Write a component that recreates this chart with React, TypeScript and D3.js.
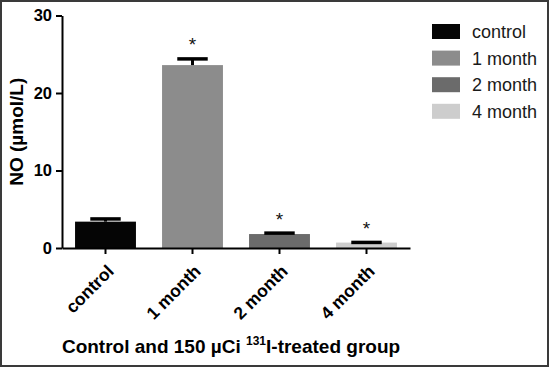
import React, { useEffect, useRef } from 'react';
import * as d3 from 'd3';

const groups = ['control', '1 month', '2 month', '4 month'];
const means = [3.4, 23.6, 1.8, 0.7];
const errors = [0.35, 0.8, 0.12, 0.02];
const starred = [false, true, true, true];
const colors = ['#050505', '#8c8c8c', '#6b6b6b', '#cdcdcd'];
const yTicks = [0, 10, 20, 30];

const FONT = '"Liberation Sans", Arial, Helvetica, sans-serif';

const App: React.FC = () => {
  const svgRef = useRef<SVGSVGElement | null>(null);

  useEffect(() => {
    if (!svgRef.current) return;
    const width = 549;
    const height = 367;
    const margin = { top: 15.5, right: 139, bottom: 119, left: 62 };

    const svg = d3.select(svgRef.current);
    svg.selectAll('*').remove();

    svg
      .append('rect')
      .attr('x', 0)
      .attr('y', 0)
      .attr('width', width)
      .attr('height', height)
      .attr('fill', '#fff');

    const x = d3
      .scaleBand<string>()
      .domain(groups)
      .range([margin.left, width - margin.right])
      .paddingInner(0.3)
      .paddingOuter(0.15);

    const y = d3
      .scaleLinear()
      .domain([0, 30])
      .range([height - margin.bottom, margin.top]);

    const data = groups.map((g, i) => ({
      g,
      mean: means[i],
      err: errors[i],
      star: starred[i],
      color: colors[i],
    }));

    // Bars
    svg
      .selectAll('rect.bar')
      .data(data)
      .enter()
      .append('rect')
      .attr('class', 'bar')
      .attr('x', (d) => x(d.g) as number)
      .attr('y', (d) => y(d.mean))
      .attr('width', x.bandwidth())
      .attr('height', (d) => y(0) - y(d.mean))
      .attr('fill', (d) => d.color);

    // Error bars (upper only)
    const capW = x.bandwidth() / 2;
    data.forEach((d) => {
      const cx = (x(d.g) as number) + x.bandwidth() / 2;
      const top = y(d.mean + d.err);
      svg
        .append('line')
        .attr('x1', cx)
        .attr('x2', cx)
        .attr('y1', y(d.mean))
        .attr('y2', top)
        .attr('stroke', '#000')
        .attr('stroke-width', 3);
      svg
        .append('line')
        .attr('x1', cx - capW / 2)
        .attr('x2', cx + capW / 2)
        .attr('y1', top)
        .attr('y2', top)
        .attr('stroke', '#000')
        .attr('stroke-width', 3.5);
      if (d.star) {
        svg
          .append('text')
          .attr('x', cx)
          .attr('y', top - 7.5)
          .attr('text-anchor', 'middle')
          .attr('font-family', FONT)
          .attr('font-size', '19px')
          .attr('fill', '#111')
          .text('*');
      }
    });

    // Y axis
    const yAxis = svg
      .append('g')
      .attr('transform', `translate(${margin.left},0)`)
      .call(d3.axisLeft(y).tickValues(yTicks).tickSize(6).tickPadding(4).tickSizeOuter(0));
    yAxis.select('.domain').attr('stroke', '#000').attr('stroke-width', 2);
    yAxis.selectAll('line').attr('stroke', '#000').attr('stroke-width', 2);
    yAxis
      .selectAll('text')
      .attr('fill', '#000')
      .attr('font-family', FONT)
      .attr('font-weight', 'bold')
      .attr('font-size', '16.5px');

    // X axis
    const xAxis = svg
      .append('g')
      .attr('transform', `translate(0,${y(0)})`)
      .call(d3.axisBottom(x).tickSize(6).tickSizeOuter(0));
    xAxis.select('.domain').attr('stroke', '#000').attr('stroke-width', 2);
    xAxis.selectAll('line').attr('stroke', '#000').attr('stroke-width', 2);
    xAxis
      .selectAll('text')
      .attr('fill', '#000')
      .attr('font-family', FONT)
      .attr('font-weight', 'bold')
      .attr('font-size', '17.5px')
      .attr('text-anchor', 'end')
      .attr('x', 0)
      .attr('y', 0)
      .attr('dy', '0.35em')
      .attr('transform', 'translate(5,20) rotate(-45)');

    // Axis titles
    svg
      .append('text')
      .attr('x', -(y(0) + y(30)) / 2)
      .attr('y', 23)
      .attr('transform', 'rotate(-90)')
      .attr('text-anchor', 'middle')
      .attr('font-family', FONT)
      .attr('font-weight', 'bold')
      .attr('font-size', '19px')
      .attr('fill', '#000')
      .text('NO (µmol/L)');

    const title = svg
      .append('text')
      .attr('x', 231)
      .attr('y', 353)
      .attr('text-anchor', 'middle')
      .attr('font-family', FONT)
      .attr('font-weight', 'bold')
      .attr('font-size', '19px')
      .attr('fill', '#000');
    title.append('tspan').text('Control and 150 µCi ');
    title.append('tspan').attr('font-size', '12px').attr('dy', '-8').text('131');
    title.append('tspan').attr('dy', '8').text('I-treated group');

    // Legend
    const legend = svg
      .append('g')
      .attr('transform', 'translate(432,24)');
    groups.forEach((g, i) => {
      const row = legend.append('g').attr('transform', `translate(0,${i * 26.6})`);
      row
        .append('rect')
        .attr('width', 28)
        .attr('height', 15)
        .attr('fill', colors[i]);
      row
        .append('text')
        .attr('x', 40)
        .attr('y', 14)
        .attr('font-family', FONT)
        .attr('font-size', '18px')
        .attr('fill', '#1a1a1a')
        .text(g);
    });

    // Frame
    svg
      .append('rect')
      .attr('x', 1)
      .attr('y', 1)
      .attr('width', width - 2)
      .attr('height', height - 2)
      .attr('fill', 'none')
      .attr('stroke', '#3a3a3a')
      .attr('stroke-width', 2);
  }, []);

  return (
    <div style={{ position: 'fixed', left: 0, top: 0 }}>
      <svg ref={svgRef} width={549} height={367} style={{ display: 'block' }} />
    </div>
  );
};

export default App;
